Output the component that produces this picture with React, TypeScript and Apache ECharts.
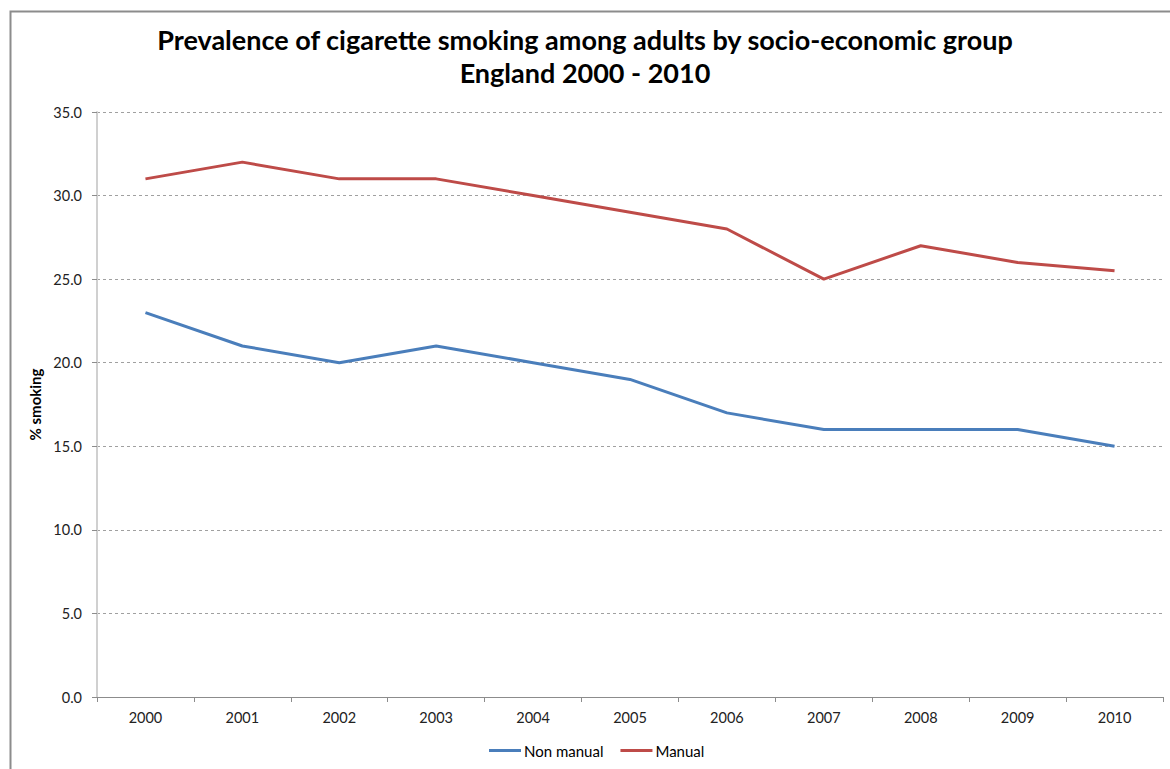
import React, { useEffect, useRef } from "react";
import * as echarts from "echarts";

// Survey years along the category axis
const years = ["2000", "2001", "2002", "2003", "2004", "2005", "2006", "2007", "2008", "2009", "2010"];

// Percentage of adults who smoke, by socio-economic group
const nonManual = [23, 21, 20, 21, 20, 19, 17, 16, 16, 16, 15];
const manual = [31, 32, 31, 31, 30, 29, 28, 25, 27, 26, 25.5];

const titleLines = [
  "Prevalence of cigarette smoking among adults by socio-economic group",
  "England 2000 - 2010",
];

const FONT = "Lato, 'Open Sans', sans-serif";

export default function App() {
  const ref = useRef<HTMLDivElement>(null);

  useEffect(() => {
    if (!ref.current) return;
    const chart = echarts.init(ref.current, undefined, { renderer: "svg" });
    chart.setOption({
      animation: false,
      backgroundColor: "#ffffff",
      title: {
        text: titleLines.join("\n"),
        left: "center",
        top: 18,
        textStyle: {
          fontFamily: FONT,
          fontSize: 27,
          fontWeight: "bold",
          color: "#000000",
          lineHeight: 33,
        },
      },
      graphic: [
        {
          type: "rect",
          left: 8,
          top: 9,
          shape: { width: 1300, height: 900 },
          style: { fill: "none", stroke: "#8c8c8c", lineWidth: 2 },
          silent: true,
        },
      ],
      legend: {
        bottom: 11,
        left: 489,
        padding: 0,
        itemWidth: 32,
        itemHeight: 3,
        itemGap: 17,
        icon: "rect",
        textStyle: { fontFamily: FONT, fontSize: 15, color: "#000000", padding: [0, 0, 0, -2] },
        data: ["Non manual", "Manual"],
      },
      grid: { left: 97, right: 7, top: 112, bottom: 72 },
      xAxis: {
        type: "category",
        data: years,
        boundaryGap: true,
        axisLine: { lineStyle: { color: "#8c8c8c", width: 1 } },
        axisTick: { show: true, inside: false, length: 5, lineStyle: { color: "#8c8c8c" } },
        axisLabel: { fontFamily: FONT, fontSize: 14.5, color: "#222222", margin: 13 },
      },
      yAxis: {
        type: "value",
        min: 0,
        max: 35,
        interval: 5,
        name: "% smoking",
        nameLocation: "middle",
        nameGap: 49,
        nameRotate: 90,
        nameTextStyle: { fontFamily: FONT, fontSize: 15, fontWeight: "bold", color: "#000000" },
        axisLine: { show: true, lineStyle: { color: "#d0d0d0", width: 2 } },
        axisTick: { show: true, inside: false, length: 5, lineStyle: { color: "#8c8c8c" } },
        axisLabel: {
          fontFamily: FONT,
          fontSize: 14.5,
          color: "#222222",
          margin: 15,
          formatter: (v: number) => v.toFixed(1),
        },
        splitLine: { show: true, lineStyle: { color: "#a0a0a0", type: [3, 3], width: 1 } },
      },
      series: [
        {
          name: "Non manual",
          type: "line",
          data: nonManual,
          symbol: "none",
          color: "#4a7ebb",
          lineStyle: { color: "#4a7ebb", width: 3 },
        },
        {
          name: "Manual",
          type: "line",
          data: manual,
          symbol: "none",
          color: "#be4b48",
          lineStyle: { color: "#be4b48", width: 3 },
        },
      ],
    });
    return () => chart.dispose();
  }, []);

  return (
    <div
      ref={ref}
      style={{ position: "fixed", left: 0, top: 0, width: 1170, height: 769 }}
    />
  );
}
